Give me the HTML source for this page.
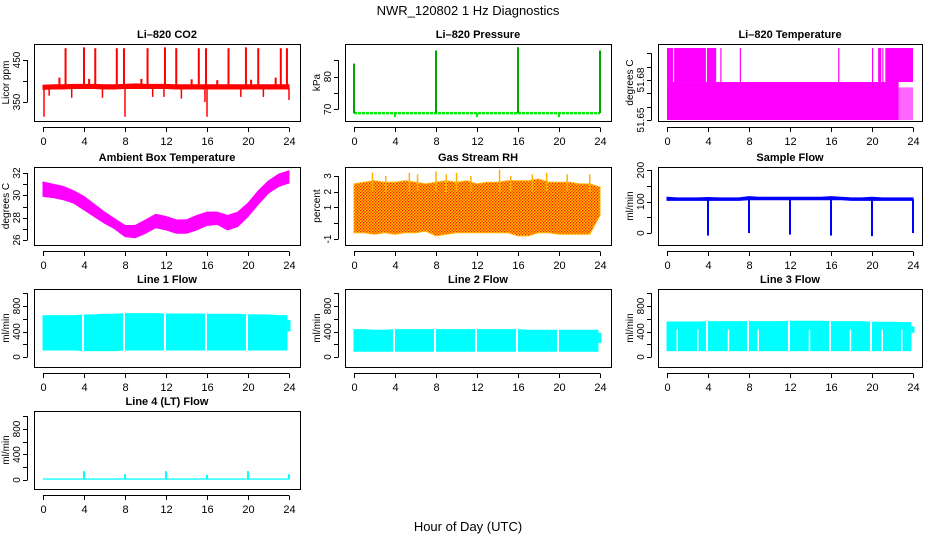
<!DOCTYPE html>
<html><head><meta charset="utf-8"><style>
html,body{margin:0;padding:0;background:#fff;}
svg{display:block;font-family:"Liberation Sans",Arial,sans-serif;}
</style></head><body>
<svg id="fig" width="936" height="540" viewBox="0 0 936 540">
<defs>
<pattern id="rhpat" width="3" height="3" patternUnits="userSpaceOnUse">
<rect width="3" height="3" fill="#ffc000"/><rect x="0" y="0" width="1.3" height="1.3" fill="#ff1000"/><rect x="1.5" y="1.5" width="1.3" height="1.3" fill="#ff1000"/>
</pattern>
</defs>
<text x="468" y="15" font-size="13" text-anchor="middle">NWR_120802 1 Hz Diagnostics</text>
<text x="468" y="531" font-size="13" text-anchor="middle">Hour of Day (UTC)</text>
</svg>
<script>
// ---- shared data ----
const HOURS = [0,1,2,3,4,5,6,7,8,9,10,11,12,13,14,15,16,17,18,19,20,21,22,23,24];
const xTicks = [0,4,8,12,16,20,24];

// CO2
const co2Lo = [380,381,381,382,382,382,381,381,382,382,382,382,382,381,381,381,381,381,381,381,381,381,381,381,381];
const co2Hi = [390,391,391,392,392,392,391,391,392,393,392,392,392,391,391,391,391,391,391,391,391,391,391,391,391];
const co2SpikeT = [2.2,4.0,5.1,7.2,7.9,10.2,11.9,13.0,15.2,15.9,18.1,19.8,21.0,23.2,23.8,1.6,4.5,9.6,14.5,17.0,20.3,22.7];
const co2SpikeV = [478,480,478,478,478,478,480,478,478,478,478,480,478,478,478,408,405,405,404,402,403,408];
const co2DipT = [0.1,8.0,16.0,0.6,2.8,5.8,10.7,11.8,13.5,15.8,19.3,21.5,24.0];
const co2DipV = [315,315,315,365,360,360,362,362,358,350,362,362,355];

// Pressure
const presBase = 68.8;
const presSpikeT = [0,8,16,24];
const presSpikeV = [84,88,89,88];
const presDipT = [4,12,20];
const presDipV = [67.6,67.6,67.6];

// Li-820 temperature
const tempTopStart = [0,0.7,3.9,5.2,7.1,16.7,20.0,20.6,21.0,21.3];
const tempTopEnd = [0.6,3.8,4.8,5.3,7.2,16.8,20.1,20.9,21.1,24.0];
const tempTopV = 51.704, tempMidV = 51.6785, tempLowV = 51.65;

// Ambient box temperature
const ambLo = [29.9,29.8,29.6,29.3,28.7,28.1,27.5,27.0,26.3,26.2,26.6,27.1,26.9,26.6,26.6,26.9,27.3,27.4,26.9,27.2,28.1,29.2,30.2,30.8,31.1];
const ambHi = [31.2,31.0,30.8,30.4,29.9,29.2,28.5,27.9,27.3,27.3,27.8,28.3,28.1,27.8,27.8,28.2,28.5,28.5,28.2,28.5,29.3,30.4,31.3,31.9,32.2];

// RH
const rhLo = [-0.6,-0.6,-0.7,-0.6,-0.7,-0.6,-0.6,-0.5,-0.8,-0.7,-0.6,-0.6,-0.6,-0.6,-0.6,-0.6,-0.8,-0.8,-0.6,-0.6,-0.7,-0.7,-0.7,-0.7,0.5];
const rhHi = [2.5,2.6,2.7,2.6,2.6,2.7,2.6,2.5,2.6,2.7,2.6,2.7,2.5,2.6,2.6,2.7,2.7,2.7,2.8,2.6,2.6,2.6,2.5,2.5,2.3];
const rhSpikeT = [1.8,3.1,5.4,6.2,8.0,9.0,10.0,11.4,14.2,15.3,17.4,18.8,20.8,23.0];
const rhSpikeV = [3.2,3.0,3.2,3.1,3.3,3.1,3.2,3.0,3.4,3.0,3.1,3.2,3.1,3.1];

// Sample flow
const sfLo = [104,104,104,104,104,104,104,104,106,106,106,106,106,106,106,106,106,106,104,104,104,104,104,104,104];
const sfHi = [114,112,112,112,113,112,112,112,116,114,114,114,114,114,114,114,116,114,112,112,114,112,112,112,112];
const sfDipT = [4,8,12,16,20,24];
const sfDipV = [-8,0,-5,-8,-10,0];

// Line flows
const l1Lo = [110,110,110,110,100,100,100,100,110,110,110,110,110,110,110,110,110,110,110,110,110,110,110,110,400];
const l1Hi = [650,650,650,650,660,660,670,670,680,680,680,680,675,675,675,675,670,670,670,670,660,660,660,650,580];
const l2Lo = [90,90,90,90,90,90,90,90,90,90,90,90,90,90,90,90,90,90,90,90,90,90,90,90,220];
const l2Hi = [430,430,420,420,430,430,430,430,430,430,430,430,430,430,430,430,430,420,420,420,420,420,420,420,380];
const l3Lo = [100,100,100,100,100,100,100,100,100,100,100,100,100,100,100,100,100,100,100,100,100,100,100,100,380];
const l3Hi = [550,550,550,550,555,555,555,555,555,555,555,555,560,560,560,560,555,555,555,555,545,545,545,540,480];
const flowGapT = [3.9,7.9,11.9,15.9,19.9];
const l3PartGapT = [1.0,3.0,6.0,8.9,13.9,17.9,21.0,22.9];
const l4SpikeT = [4,8,12,16,20,24];
const l4SpikeV = [140,90,140,80,140,90];

// ---- layout ----
const SVGNS = "http://www.w3.org/2000/svg";
const fig = document.getElementById('fig');
const COLS = [34,345,658];
const ROWS = [[44,121],[167,245],[289,367],[411,489]];
function mk(tag, attrs, parent){
  const e = document.createElementNS(SVGNS, tag);
  for (const k in attrs) e.setAttribute(k, attrs[k]);
  (parent||fig).appendChild(e);
  return e;
}
function panel(name, col, row, title, ylab, ymin, ymax, ticks, labels){
  const left = COLS[col], right = left + (col===2?264:266);
  const top = ROWS[row][0], bot = ROWS[row][1];
  const g = mk('g', {});
  
  
  const P = {g, left, right, top, bot,
    x: t => left + 9 + t * 246/24,
    y: v => bot - (v - ymin) / (ymax - ymin) * (bot - top)};
  const plot = mk('g', {}, g);
  
  
  P.plot = plot;
  const cp = mk('clipPath', {id: 'cp-' + name}, g);
  mk('rect', {x: left, y: top, width: right-left, height: bot-top}, cp);
  plot.setAttribute('clip-path', 'url(#cp-' + name + ')');
  P.finish = function(){
    const box = mk('rect', {x: left+0.5, y: top+0.5, width: right-left, height: bot-top, fill: 'none', stroke: '#000'}, g);
    
    
    const tt = mk('text', {x: (left+right)/2, y: top-6, 'font-size': 11, 'font-weight': 'bold', 'text-anchor': 'middle'}, g);
    tt.textContent = title;
    
    
    const xa = mk('g', {}, g);
    
    
    mk('line', {x1: P.x(0), x2: P.x(24), y1: bot+6.5, y2: bot+6.5, stroke: '#000'}, xa);
    xTicks.forEach(t => {
      const px = Math.round(P.x(t)) + 0.5;
      mk('line', {x1: px, x2: px, y1: bot+6.5, y2: bot+11, stroke: '#000'}, xa);
      const tx = mk('text', {x: px, y: bot+24, 'font-size': 11, 'text-anchor': 'middle'}, xa);
      tx.textContent = t;
    });
    const ya = mk('g', {}, g);
    
    
    mk('line', {x1: left-6.5, x2: left-6.5, y1: P.y(ticks[0]), y2: P.y(ticks[ticks.length-1]), stroke: '#000'}, ya);
    ticks.forEach(v => {
      const py = Math.round(P.y(v)) + 0.5;
      mk('line', {x1: left-11, x2: left-6.5, y1: py, y2: py, stroke: '#000'}, ya);
    });
    labels.forEach(v => {
      const py = P.y(v);
      const tx = mk('text', {x: left-14, y: py, 'font-size': 10, 'text-anchor': 'middle', transform: 'rotate(-90 ' + (left-14) + ' ' + py + ')'}, ya);
      tx.textContent = v;
    });
    const yl = mk('text', {x: left-25, y: (top+bot)/2, 'font-size': 10, 'text-anchor': 'middle', transform: 'rotate(-90 ' + (left-25) + ' ' + (top+bot)/2 + ')'}, g);
    yl.textContent = ylab;
    
    
  };
  return P;
}
function band(P, ts, lo, hi, fill){
  let pts = ts.map((t,i) => P.x(t) + ',' + P.y(hi[i]));
  pts = pts.concat(ts.slice().reverse().map((t,j) => { const i = ts.length-1-j; return P.x(t) + ',' + P.y(lo[i]); }));
  const p = mk('polygon', {points: pts.join(' '), fill: fill, stroke: fill, 'stroke-width': 1}, P.plot);
  
  
  return p;
}
function vline(P, t, v0, v1, color, w){
  const l = mk('line', {x1: P.x(t), x2: P.x(t), y1: P.y(v0), y2: P.y(v1), stroke: color, 'stroke-width': w||1.5}, P.plot);
  
  
}

// CO2
let P = panel('co2-panel',0,0,'Li–820 CO2','Licor ppm',304.8,488,[350,400,450],[350,450]);
band(P, HOURS, co2Lo, co2Hi, '#ff0000');
co2SpikeT.forEach((t,i) => vline(P, t, 388, co2SpikeV[i], '#ff0000', 2));
co2DipT.forEach((t,i) => vline(P, t, 384, co2DipV[i], '#ff0000', 1.5));
P.finish();

// Pressure
P = panel('pressure-panel',1,0,'Li–820 Pressure','kPa',66.4,90,[70,75,80,85],[70,80]);
const pb = mk('line', {x1: P.x(0), x2: P.x(24), y1: P.y(presBase), y2: P.y(presBase), stroke: '#00ee00', 'stroke-width': 2.5, 'stroke-dasharray': '3 1'}, P.plot);


presSpikeT.forEach((t,i) => { vline(P, t, presBase, presSpikeV[i], '#00ee00', 2); vline(P, t, presBase, presSpikeV[i], '#000', 0.6); });
presDipT.forEach((t,i) => vline(P, t, presBase, presDipV[i], '#00ee00', 2));
P.finish();

// Temperature
P = panel('li820-temperature-panel',2,0,'Li–820 Temperature','degrees C',51.6493,51.707,[51.65,51.66,51.67,51.68,51.69,51.70],[51.65,51.68]);
const tb = mk('rect', {x: P.x(0), y: P.y(tempMidV), width: P.x(22.6)-P.x(0), height: P.y(tempLowV)-P.y(tempMidV), fill: '#ff00ff'}, P.plot);


const tb2 = mk('rect', {x: P.x(22.6), y: P.y(51.6745), width: P.x(24)-P.x(22.6), height: P.y(tempLowV)-P.y(51.6745), fill: '#ff00ff', 'fill-opacity': 0.6}, P.plot);


tempTopStart.forEach((s,i) => {
  const r = mk('rect', {x: P.x(s), y: P.y(tempTopV), width: Math.max(1.2, P.x(tempTopEnd[i])-P.x(s)), height: P.y(tempMidV)-P.y(tempTopV), fill: '#ff00ff'}, P.plot);
  
  
});
P.finish();

// Ambient
P = panel('ambient-temperature-panel',0,1,'Ambient Box Temperature','degrees C',25.55,32.54,[26,27,28,29,30,31,32],[26,28,30,32]);
band(P, HOURS, ambLo, ambHi, '#ff00ff');
P.finish();

// RH
P = panel('gas-stream-rh-panel',1,1,'Gas Stream RH','percent',-1.38,3.57,[-1,0,1,2,3],[-1,1,2,3]);
band(P, HOURS, rhLo, rhHi, 'url(#rhpat)').setAttribute('stroke','#ffb000');
rhSpikeT.forEach((t,i) => vline(P, t, 2, rhSpikeV[i], '#ffb000', 1.5));
P.finish();

// Sample flow
P = panel('sample-flow-panel',2,1,'Sample Flow','ml/min',-38,210,[0,50,100,150,200],[0,100,200]);
band(P, HOURS, sfLo, sfHi, '#0000ff');
sfDipT.forEach((t,i) => vline(P, t, 108, sfDipV[i], '#0000ff', 2));
P.finish();

// Line flows
function flowPanel(name,col,row,title,lo,hi,partGaps){
  const Q = panel(name,col,row,title,'ml/min',-157,1067,[0,200,400,600,800,1000],[0,400,800]);
  band(Q, HOURS.slice(0,24).concat([23.8]), lo.slice(0,24).concat([lo[23]]), hi.slice(0,24).concat([hi[23]]), '#00ffff');
  vline(Q, 24, lo[24], hi[24], '#00ffff', 3);
  flowGapT.forEach(t => vline(Q, t, -100, 1000, '#ffffff', 2));
  partGaps.forEach(t => vline(Q, t, 90, 430, '#ffffff', 1.5));
  Q.finish();
}
flowPanel('line1-flow-panel',0,2,'Line 1 Flow',l1Lo,l1Hi,[]);
flowPanel('line2-flow-panel',1,2,'Line 2 Flow',l2Lo,l2Hi,[]);
flowPanel('line3-flow-panel',2,2,'Line 3 Flow',l3Lo,l3Hi,l3PartGapT);

// Line 4
P = panel('line4-flow-panel',0,3,'Line 4 (LT) Flow','ml/min',-141,1082,[0,200,400,600,800,1000],[0,400,800]);
const b4 = mk('rect', {x: P.x(0), y: P.y(25), width: P.x(24)-P.x(0), height: P.y(5)-P.y(25), fill: '#00ffff'}, P.plot);


l4SpikeT.forEach((t,i) => vline(P, t, 15, l4SpikeV[i], '#00ffff', 2));
P.finish();
</script>
</body></html>
